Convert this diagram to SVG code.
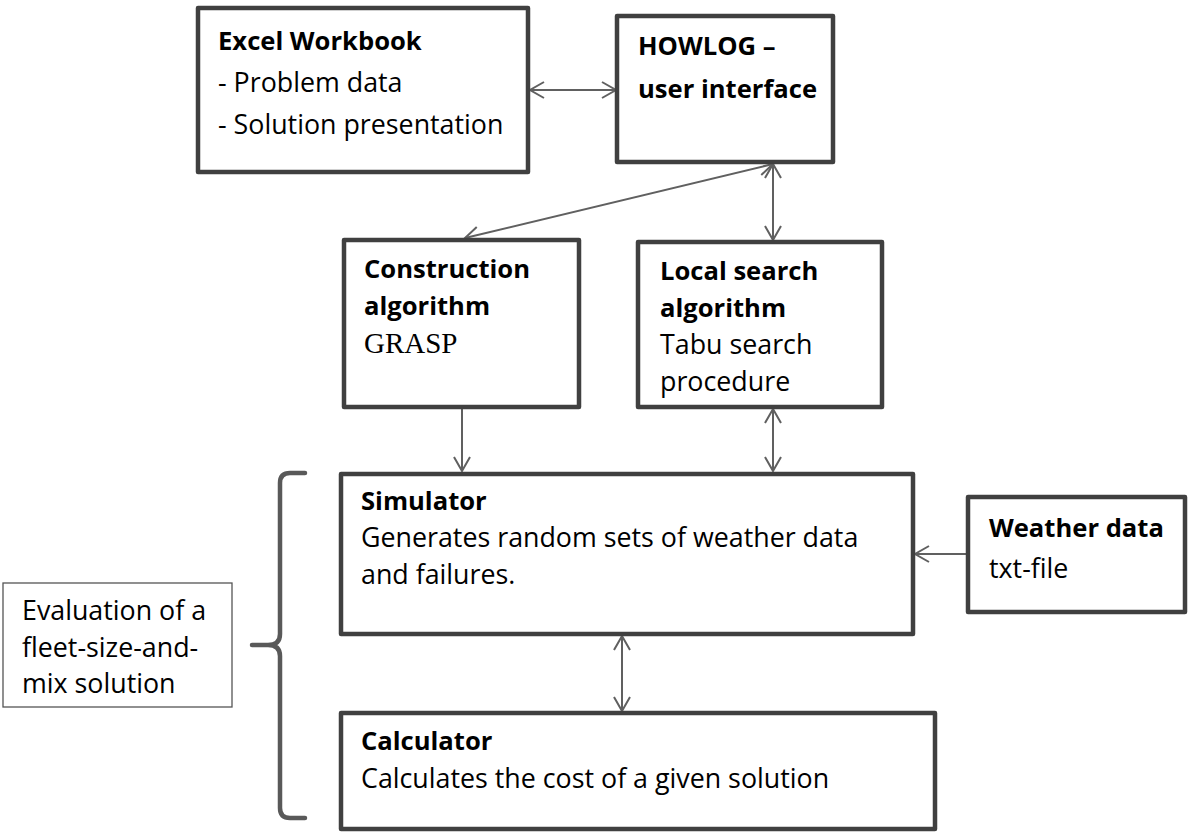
<svg xmlns="http://www.w3.org/2000/svg" width="1192" height="832" viewBox="0 0 1192 832">
<style>
.box{fill:#fff;stroke:#404040;stroke-width:4.5;stroke-linejoin:round}
.thin{fill:#fff;stroke:#555;stroke-width:1.3}
.t{font-family:"Open Sans","Liberation Sans",sans-serif;font-size:26.8px;fill:#000}
.b{font-weight:bold;font-size:25.6px}
.serif{font-family:"Liberation Serif","Times New Roman",serif;font-size:29px;fill:#000}
.c{stroke:#606060;stroke-width:2;fill:none;marker-start:url(#ah);marker-end:url(#ah)}
.c1{stroke:#606060;stroke-width:2;fill:none;marker-end:url(#ah)}
</style>
<defs>
<marker id="ah" markerUnits="userSpaceOnUse" markerWidth="20" markerHeight="20" viewBox="-15 -10 17 20" refX="0" refY="0" orient="auto-start-reverse">
<path d="M-14,-8 L0,0 L-14,8" fill="none" stroke="#606060" stroke-width="2"/>
</marker>
</defs>
<rect width="1192" height="832" fill="#fff"/>
<g id="connectors">
<line class="c" x1="530" y1="90" x2="616" y2="90"/>
<line class="c" x1="773" y1="164" x2="465" y2="238"/>
<line class="c" x1="773" y1="164" x2="773" y2="240"/>
<line class="c1" x1="462" y1="408" x2="462" y2="471"/>
<line class="c" x1="773" y1="409" x2="773" y2="471"/>
<line class="c1" x1="968" y1="554" x2="915" y2="554"/>
<line class="c" x1="622" y1="636" x2="622" y2="711"/>
</g>
<g id="excel">
<rect class="box" x="198" y="8" width="330" height="164"/>
<text class="t b" x="218" y="50">Excel Workbook</text>
<text class="t" x="218" y="92">- Problem data</text>
<text class="t" x="218" y="134">- Solution presentation</text>
</g>
<g id="howlog">
<rect class="box" x="617" y="16" width="216" height="146"/>
<text class="t b" x="638" y="55">HOWLOG –</text>
<text class="t b" x="638" y="98">user interface</text>
</g>
<g id="construction">
<rect class="box" x="344" y="240" width="235" height="167"/>
<text class="t b" x="364" y="278">Construction</text>
<text class="t b" x="364" y="315">algorithm</text>
<text class="serif" x="364" y="353">GRASP</text>
</g>
<g id="localsearch">
<rect class="box" x="638" y="242" width="244" height="165"/>
<text class="t b" x="660" y="280">Local search</text>
<text class="t b" x="660" y="317">algorithm</text>
<text class="t" x="660" y="354">Tabu search</text>
<text class="t" x="660" y="391">procedure</text>
</g>
<g id="simulator">
<rect class="box" x="341" y="474" width="572" height="160"/>
<text class="t b" x="361" y="510">Simulator</text>
<text class="t" x="361" y="547">Generates random sets of weather data</text>
<text class="t" x="361" y="584">and failures.</text>
</g>
<g id="weather">
<rect class="box" x="968" y="497" width="217" height="115"/>
<text class="t b" x="989" y="537">Weather data</text>
<text class="t" x="989" y="578">txt-file</text>
</g>
<g id="calculator">
<rect class="box" x="341" y="713" width="594" height="116"/>
<text class="t b" x="361" y="750">Calculator</text>
<text class="t" x="361" y="788">Calculates the cost of a given solution</text>
</g>
<g id="brace">
<path d="M305,473 L290,473 Q280,473 280,483 L280,634 Q280,645 268,645 L252,645 M268,645 Q280,645 280,656 L280,808 Q280,818 290,818 L305,818" fill="none" stroke="#595959" stroke-width="4.5" stroke-linecap="round"/>
</g>
<g id="evaluation">
<rect class="thin" x="3" y="583" width="229" height="124"/>
<text class="t" x="22" y="620">Evaluation of a</text>
<text class="t" x="22" y="657">fleet-size-and-</text>
<text class="t" x="22" y="693">mix solution</text>
</g>
</svg>
